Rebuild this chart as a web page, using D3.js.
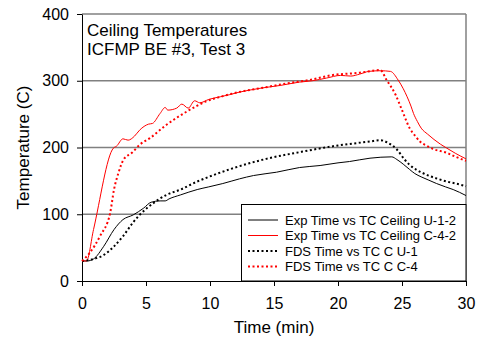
<!DOCTYPE html>
<html>
<head>
<meta charset="utf-8">
<script src="https://cdn.jsdelivr.net/npm/d3@7"></script>
<style>
  body { margin: 0; background: #fff; }
  svg text { font-family: "Liberation Sans", Arial, sans-serif; fill: #000; }
</style>
</head>
<body>
<svg id="chart" width="479" height="345"></svg>
<script>
// values, [time (min), temperature (C)]
const expU12 = [[0,30],[0.4,30],[0.9,33],[1.7,52],[2.5,77],[3.2,92],[4.0,99],[4.8,109],[5.4,118],[6.1,120],[6.5,120],[6.8,123],[7.7,129],[9.0,137],[9.9,141],[11.0,146],[12.3,153],[13.4,158],[15.2,163],[17.0,170],[18.6,173],[20.0,177],[20.9,179],[22.5,184],[24.2,186],[24.6,182],[25.1,175],[25.6,167],[26.0,161],[26.5,156],[27.1,151],[27.7,146],[28.4,141],[29.0,137],[30,128]];
const expC42 = [[0,30],[0.35,30],[0.9,77],[2.45,199],[2.7,202],[3.2,213],[3.6,211],[4.1,217],[4.5,226],[5.2,235],[5.5,236],[6.1,251],[6.5,260],[6.7,256],[7.4,259],[7.8,265],[8.3,259],[8.8,270],[9.2,267],[9.9,272],[10.8,276],[11.5,279],[12.3,283],[13.1,286],[14.0,289],[15.5,293],[17.0,298],[18.0,300],[19.1,304],[20.2,308],[21.0,307],[21.7,310],[22.4,314],[23.3,315],[24.1,314],[24.7,301],[25.1,288],[25.4,276],[25.7,262],[25.9,251],[26.2,239],[26.5,229],[27.0,220],[27.5,212],[28.0,205],[28.5,199],[29.2,191],[30,183]];
const fdsU1 = [[0,30],[0.9,33],[1.7,39],[2.45,51],[3.2,67],[4.0,88],[4.5,99],[5.6,117],[6.6,129],[7.7,137],[9.0,149],[9.9,156],[11.8,169],[14.4,183],[17.0,193],[20.0,203],[22.5,209],[23.3,211],[23.9,207],[24.6,197],[25.2,182],[25.6,174],[26.1,167],[26.6,162],[27.2,157],[27.8,153],[28.5,149],[29.2,146],[30,142]];
const fdsC4 = [[0,30],[0.6,42],[1.4,67],[2.2,102],[2.5,137],[2.85,162],[3.25,182],[3.9,192],[4.5,204],[5.3,214],[6.6,234],[8.2,254],[9.7,269],[11.0,277],[12.5,284],[14.0,289],[16.0,296],[18.0,302],[19.4,308],[21.7,312],[23.3,316],[23.8,301],[24.5,279],[25.0,256],[25.6,229],[26.0,218],[26.4,209],[26.9,203],[27.4,198],[28.5,192],[29.2,186],[30,180]];

const xTicks = [0, 5, 10, 15, 20, 25, 30];
const yTicks = [0, 100, 200, 300, 400];
const titleLines = ["Ceiling Temperatures", "ICFMP BE #3, Test 3"];

const series = [
  {name: "Exp Time vs TC Ceiling U-1-2", data: expU12, color: "#000", dash: null, width: 1},
  {name: "Exp Time vs TC Ceiling C-4-2", data: expC42, color: "#ff0000", dash: null, width: 1},
  {name: "FDS Time vs TC C U-1", data: fdsU1, color: "#000", dash: "2,2.5", width: 2},
  {name: "FDS Time vs TC C C-4", data: fdsC4, color: "#ff0000", dash: "2,2.5", width: 2}
];

const svg = d3.select("#chart");
const m = {left: 82, right: 466, top: 14, bottom: 281};

const x = d3.scaleLinear().domain([0, 30]).range([m.left, m.right]);
const y = d3.scaleLinear().domain([0, 400]).range([m.bottom, m.top]);

// gridlines + frame
svg.append("g")
  .selectAll("line")
  .data(yTicks.filter(d => d > 0))
  .join("line")
  .attr("x1", m.left).attr("x2", m.right)
  .attr("y1", d => y(d)).attr("y2", d => y(d))
  .attr("stroke", "#808080").attr("stroke-width", 1.5);

svg.append("line")
  .attr("x1", m.right).attr("x2", m.right).attr("y1", m.top).attr("y2", m.bottom)
  .attr("stroke", "#808080").attr("stroke-width", 1.5);

// axes
const xAxis = svg.append("g")
  .attr("transform", `translate(0,${m.bottom})`)
  .call(d3.axisBottom(x).tickValues(xTicks).tickSize(5).tickPadding(12).tickSizeOuter(0));
const yAxis = svg.append("g")
  .attr("transform", `translate(${m.left},0)`)
  .call(d3.axisLeft(y).tickValues(yTicks).tickSize(5).tickPadding(8).tickSizeOuter(0));

[xAxis, yAxis].forEach(g => {
  g.attr("font-family", null);
  g.selectAll("text").style("font-size", "16px");
  g.select(".domain").attr("stroke", "#000");
  g.selectAll(".tick line").attr("stroke", "#000");
});

// lines
const line = d3.line().curve(d3.curveMonotoneX).x(d => x(d[0])).y(d => y(d[1]));
svg.append("g")
  .selectAll("path")
  .data(series)
  .join("path")
  .attr("d", d => line(d.data))
  .attr("fill", "none")
  .attr("stroke", d => d.color)
  .attr("stroke-width", d => d.width)
  .attr("stroke-dasharray", d => d.dash);

// title inside plot
svg.append("g")
  .selectAll("text")
  .data(titleLines)
  .join("text")
  .attr("x", 87)
  .attr("y", (d, i) => 36 + i * 19)
  .style("font-size", "17px")
  .text(d => d);

// axis titles
svg.append("text")
  .attr("x", 274)
  .attr("y", 333)
  .attr("text-anchor", "middle")
  .style("font-size", "17px")
  .text("Time (min)");

svg.append("text")
  .attr("transform", `translate(29,${(m.top + m.bottom) / 2}) rotate(-90)`)
  .attr("text-anchor", "middle")
  .style("font-size", "17px")
  .text("Temperature (C)");

// legend
const legend = svg.append("g");
legend.append("rect")
  .attr("x", 241.5).attr("y", 204.5)
  .attr("width", m.right - 241.5).attr("height", m.bottom - 204.5)
  .attr("fill", "#fff").attr("stroke", "#000").attr("stroke-width", 1);

const rows = legend.selectAll("g.row")
  .data(series)
  .join("g")
  .attr("class", "row")
  .attr("transform", (d, i) => `translate(0,${220 + i * 15.5})`);

rows.append("line")
  .attr("x1", 248).attr("x2", 278)
  .attr("stroke", d => d.color)
  .attr("stroke-width", d => d.width)
  .attr("stroke-dasharray", d => d.dash);

rows.append("text")
  .attr("x", 285)
  .attr("y", 4.5)
  .style("font-size", "13px")
  .text(d => d.name);
</script>
</body>
</html>
